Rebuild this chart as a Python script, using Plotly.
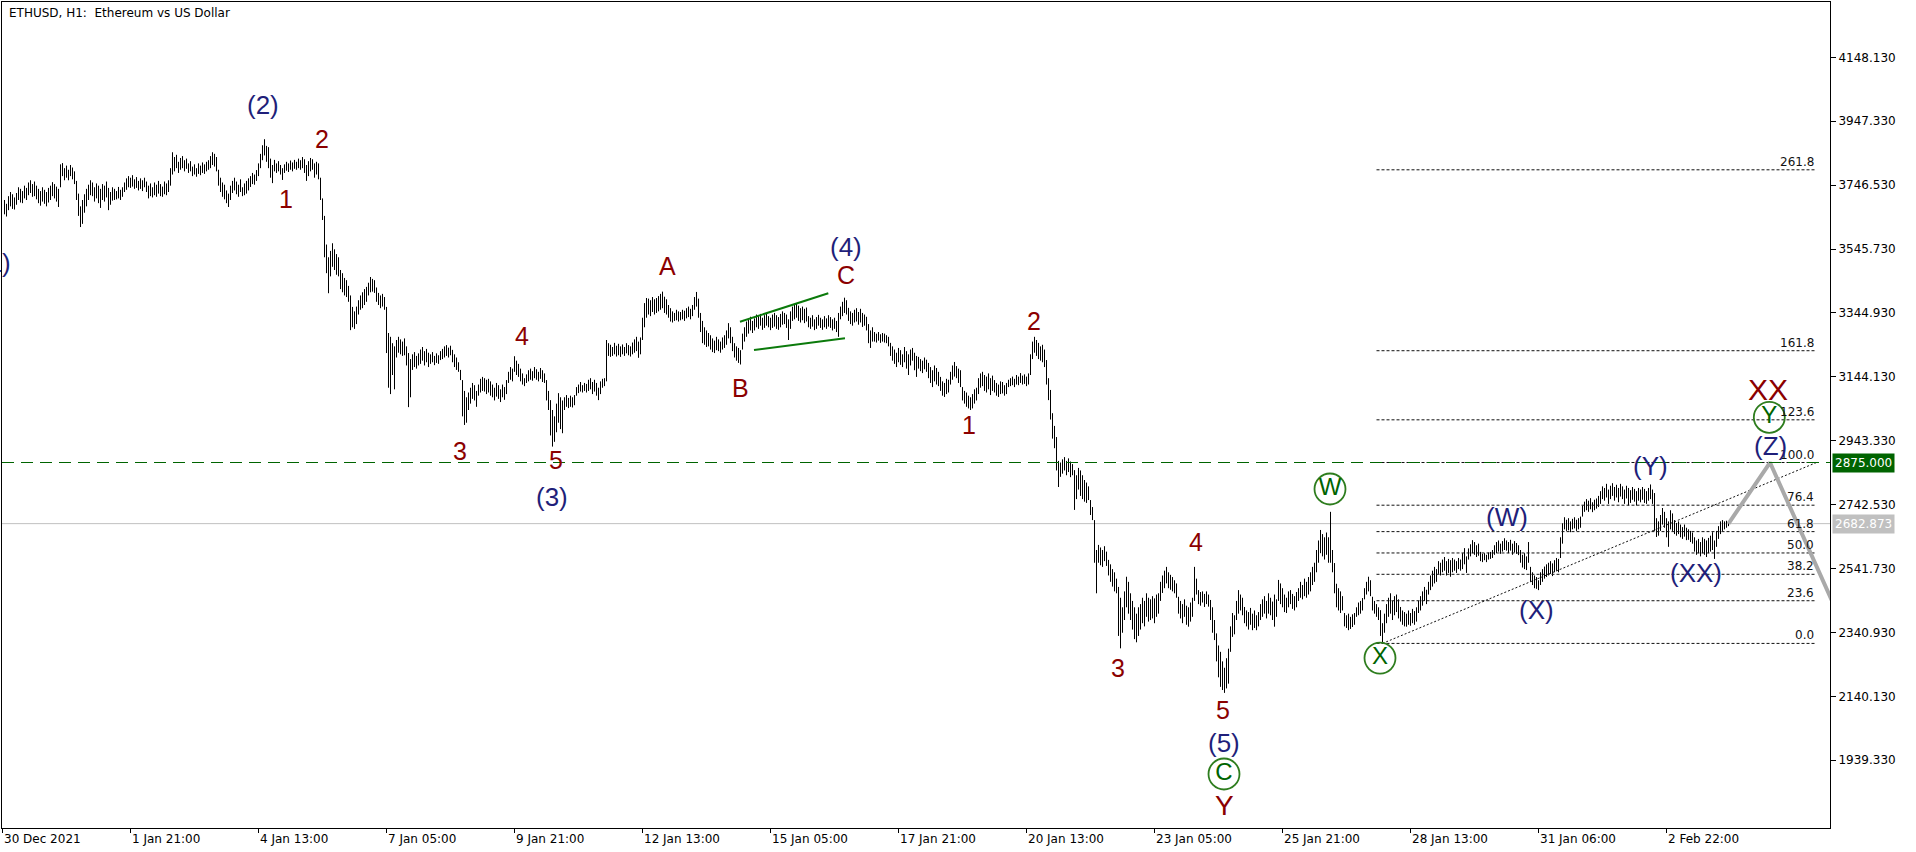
import plotly.graph_objects as go

# ---------------- data (hourly bars) ----------------
bar_high = [
    3700,3688,3712,3725,3718,3708,3722,3740,3735,3728,
    3745,3738,3755,3762,3750,3758,3745,3735,3728,3740,
    3732,3725,3738,3745,3756,3750,3742,3735,3812,3816,
    3800,3808,3795,3810,3802,3790,3760,3720,3680,3700,
    3718,3735,3748,3762,3755,3740,3752,3745,3735,3750,
    3745,3758,3738,3725,3740,3735,3728,3741,3732,3740,
    3755,3768,3775,3770,3778,3765,3772,3760,3768,3762,
    3770,3758,3745,3752,3740,3755,3748,3760,3750,3742,
    3758,3752,3762,3800,3850,3835,3842,3820,3832,3838,
    3825,3830,3815,3822,3805,3812,3800,3815,3808,3818,
    3812,3820,3825,3838,3850,3845,3835,3795,3770,3755,
    3748,3730,3720,3745,3760,3770,3758,3748,3765,3740,
    3752,3760,3768,3775,3785,3780,3794,3815,3845,3872,
    3891,3870,3866,3830,3810,3826,3815,3822,3810,3800,
    3812,3820,3815,3824,3818,3826,3820,3830,3825,3835,
    3828,3810,3822,3832,3828,3815,3820,3815,3770,3705,
    3650,3560,3520,3540,3564,3545,3530,3520,3480,3470,
    3455,3448,3430,3400,3364,3350,3365,3385,3400,3410,
    3420,3427,3440,3458,3452,3448,3425,3408,3400,3405,
    3395,3364,3282,3270,3250,3240,3260,3270,3262,3255,
    3265,3240,3219,3200,3215,3222,3210,3218,3230,3238,
    3225,3232,3220,3215,3222,3210,3218,3212,3225,3232,
    3240,3244,3236,3242,3229,3215,3205,3190,3166,3134,
    3100,3080,3095,3110,3125,3118,3100,3120,3138,3144,
    3140,3135,3138,3130,3120,3110,3125,3118,3105,3120,
    3112,3134,3160,3175,3170,3209,3195,3185,3170,3155,
    3140,3152,3165,3170,3162,3175,3168,3160,3172,3165,
    3155,3134,3100,3071,3040,3020,3060,3093,3080,3070,
    3080,3087,3078,3085,3080,3087,3112,3120,3128,3118,
    3125,3122,3135,3140,3128,3135,3125,3110,3130,3138,
    3140,3260,3250,3245,3238,3251,3242,3248,3240,3246,
    3238,3250,3244,3240,3252,3262,3270,3255,3268,3330,
    3376,3392,3390,3385,3395,3388,3392,3398,3405,3412,
    3396,3388,3370,3360,3350,3345,3355,3350,3348,3355,
    3352,3360,3365,3358,3370,3395,3411,3390,3345,3320,
    3300,3290,3282,3275,3265,3258,3270,3262,3255,3268,
    3275,3290,3313,3300,3270,3250,3240,3235,3228,3280,
    3300,3318,3325,3333,3320,3328,3340,3335,3342,3330,
    3338,3345,3335,3330,3340,3345,3338,3332,3342,3350,
    3345,3340,3325,3350,3365,3370,3376,3368,3360,3365,
    3358,3362,3335,3330,3338,3325,3332,3339,3330,3325,
    3335,3328,3338,3332,3325,3330,3320,3345,3365,3380,
    3393,3385,3361,3350,3345,3355,3360,3348,3358,3345,
    3340,3333,3310,3290,3300,3285,3280,3285,3278,3282,
    3280,3275,3270,3251,3240,3230,3220,3235,3228,3215,
    3238,3225,3215,3230,3235,3220,3210,3207,3200,3195,
    3205,3198,3188,3175,3165,3180,3172,3160,3144,3130,
    3125,3138,3135,3160,3180,3191,3178,3170,3165,3112,
    3100,3095,3085,3080,3090,3105,3110,3140,3155,3160,
    3150,3145,3155,3140,3148,3134,3125,3120,3130,3128,
    3118,3125,3135,3140,3145,3138,3150,3145,3156,3148,
    3152,3145,3155,3215,3255,3270,3260,3251,3240,3245,
    3230,3197,3140,3103,3030,2990,2955,2880,2875,2885,
    2892,2880,2888,2878,2870,2851,2835,2858,2850,2835,
    2820,2812,2800,2757,2735,2694,2600,2616,2608,2600,
    2612,2595,2569,2555,2540,2530,2510,2484,2450,2420,
    2470,2516,2500,2464,2440,2420,2400,2420,2430,2450,
    2440,2464,2450,2445,2455,2448,2460,2464,2500,2520,
    2535,2547,2530,2522,2515,2505,2495,2453,2440,2430,
    2445,2425,2420,2435,2450,2547,2510,2474,2468,2470,
    2462,2470,2460,2443,2420,2380,2338,2300,2280,2250,
    2230,2260,2290,2360,2402,2395,2440,2474,2460,2450,
    2421,2410,2405,2418,2400,2410,2395,2405,2430,2445,
    2455,2440,2464,2450,2438,2460,2445,2506,2495,2480,
    2460,2450,2470,2474,2462,2455,2468,2480,2500,2490,
    2510,2500,2515,2530,2547,2560,2600,2630,2663,2650,
    2640,2655,2640,2720,2600,2559,2494,2480,2470,2455,
    2402,2395,2400,2390,2398,2402,2420,2435,2440,2449,
    2480,2500,2516,2505,2453,2440,2430,2420,2411,2370,
    2400,2430,2450,2464,2440,2455,2460,2445,2421,2410,
    2405,2400,2410,2402,2415,2408,2420,2440,2455,2470,
    2484,2475,2500,2520,2535,2547,2540,2565,2560,2570,
    2578,2565,2572,2568,2575,2570,2565,2575,2570,2590,
    2606,2580,2605,2618,2631,2625,2615,2620,2594,2588,
    2590,2585,2592,2594,2600,2615,2625,2630,2620,2628,
    2637,2630,2625,2632,2620,2628,2622,2615,2600,2585,
    2590,2580,2625,2547,2530,2520,2515,2505,2530,2540,
    2548,2555,2560,2565,2558,2568,2575,2572,2640,2684,
    2703,2695,2700,2690,2698,2703,2695,2700,2705,2740,
    2752,2760,2755,2763,2750,2758,2762,2770,2785,2800,
    2795,2808,2790,2802,2810,2798,2805,2795,2808,2800,
    2790,2802,2795,2788,2798,2792,2785,2795,2790,2798,
    2792,2785,2795,2806,2790,2779,2700,2690,2710,2732,
    2720,2700,2690,2725,2715,2694,2685,2690,2680,2672,
    2680,2670,2665,2660,2655,2640,2630,2635,2625,2640,
    2635,2630,2638,2645,2656,2630,2660,2675,2690,2694,
    2690,2692,2690,
]
bar_low = [
    3655,3648,3668,3680,3672,3670,3685,3700,3692,3690,
    3705,3700,3715,3722,3710,3712,3702,3690,3682,3695,
    3688,3680,3692,3700,3712,3705,3695,3678,3740,3775,
    3762,3770,3762,3775,3765,3750,3700,3650,3615,3625,
    3660,3680,3700,3715,3712,3695,3705,3690,3675,3700,
    3695,3708,3668,3685,3698,3700,3702,3705,3700,3710,
    3725,3732,3740,3738,3742,3735,3738,3730,3735,3728,
    3740,3725,3705,3712,3708,3715,3710,3720,3712,3710,
    3718,3715,3725,3745,3780,3790,3800,3785,3795,3800,
    3790,3798,3785,3790,3775,3780,3773,3782,3778,3785,
    3782,3790,3795,3800,3810,3805,3790,3745,3725,3710,
    3702,3690,3678,3700,3722,3730,3718,3710,3725,3712,
    3715,3720,3730,3741,3750,3748,3760,3775,3800,3825,
    3840,3820,3800,3770,3753,3790,3785,3790,3780,3763,
    3785,3792,3788,3795,3790,3798,3795,3800,3795,3800,
    3785,3760,3775,3790,3795,3770,3780,3765,3700,3637,
    3520,3470,3407,3460,3490,3480,3465,3460,3420,3410,
    3400,3395,3380,3291,3300,3295,3310,3340,3355,3360,
    3370,3380,3400,3410,3412,3408,3380,3370,3360,3365,
    3355,3219,3110,3090,3150,3105,3205,3220,3215,3210,
    3212,3180,3049,3080,3166,3175,3170,3180,3185,3195,
    3180,3190,3175,3185,3190,3181,3188,3185,3197,3200,
    3205,3210,3205,3212,3190,3175,3166,3160,3134,3020,
    2993,3000,3040,3060,3075,3070,3050,3085,3095,3100,
    3098,3090,3095,3085,3080,3070,3082,3075,3065,3080,
    3072,3090,3125,3135,3130,3160,3150,3144,3130,3120,
    3115,3125,3130,3135,3132,3140,3135,3130,3138,3128,
    3125,3070,3040,2960,2925,2940,2970,3000,2980,2967,
    3040,3050,3046,3050,3048,3055,3085,3093,3098,3095,
    3100,3095,3100,3105,3090,3098,3085,3071,3090,3110,
    3115,3130,3210,3207,3210,3215,3208,3212,3207,3215,
    3210,3218,3212,3208,3215,3220,3225,3204,3215,3260,
    3300,3330,3340,3335,3348,3340,3345,3350,3355,3360,
    3345,3340,3330,3318,3315,3320,3322,3318,3322,3325,
    3320,3328,3332,3325,3335,3355,3365,3330,3285,3250,
    3245,3238,3240,3230,3222,3219,3228,3225,3220,3230,
    3235,3245,3265,3250,3225,3205,3195,3188,3183,3230,
    3255,3270,3280,3290,3282,3290,3300,3295,3305,3292,
    3298,3305,3300,3291,3298,3302,3295,3292,3300,3308,
    3310,3298,3260,3295,3320,3325,3330,3320,3315,3322,
    3313,3318,3300,3295,3302,3291,3295,3305,3298,3292,
    3300,3295,3302,3298,3290,3295,3285,3270,3325,3335,
    3345,3340,3320,3310,3305,3315,3318,3308,3315,3301,
    3305,3290,3250,3235,3255,3255,3252,3258,3251,3255,
    3252,3250,3240,3210,3195,3185,3175,3190,3182,3175,
    3190,3170,3150,3180,3195,3165,3144,3170,3162,3156,
    3168,3160,3140,3125,3112,3130,3120,3115,3100,3085,
    3081,3090,3095,3120,3135,3145,3140,3125,3112,3070,
    3060,3050,3045,3040,3045,3060,3070,3090,3110,3115,
    3100,3095,3105,3087,3100,3095,3085,3081,3090,3092,
    3085,3090,3112,3115,3118,3112,3120,3118,3125,3120,
    3122,3115,3120,3150,3200,3220,3210,3200,3195,3190,
    3175,3120,3071,3010,2950,2920,2850,2798,2830,2840,
    2850,2835,2845,2829,2835,2726,2760,2790,2770,2760,
    2752,2748,2757,2710,2694,2560,2464,2560,2552,2547,
    2565,2550,2520,2500,2485,2470,2464,2330,2291,2340,
    2380,2420,2400,2380,2350,2320,2310,2330,2350,2370,
    2360,2390,2375,2380,2385,2370,2390,2400,2440,2465,
    2480,2495,2480,2475,2470,2464,2450,2400,2385,2370,
    2390,2365,2359,2375,2390,2440,2460,2430,2425,2435,
    2421,2430,2422,2380,2340,2317,2250,2200,2170,2160,
    2151,2165,2180,2280,2327,2335,2380,2400,2410,2395,
    2370,2360,2350,2365,2348,2355,2348,2360,2380,2390,
    2400,2385,2400,2395,2380,2359,2390,2440,2430,2420,
    2405,2402,2420,2430,2415,2410,2420,2440,2450,2445,
    2455,2450,2460,2470,2490,2500,2530,2560,2590,2580,
    2570,2585,2560,2560,2530,2464,2420,2410,2402,2410,
    2360,2355,2348,2352,2358,2365,2390,2395,2400,2410,
    2445,2460,2470,2455,2410,2400,2390,2380,2330,2307,
    2340,2370,2390,2400,2380,2395,2405,2385,2375,2365,
    2360,2359,2365,2362,2370,2365,2375,2402,2410,2425,
    2440,2430,2460,2474,2485,2495,2500,2525,2520,2530,
    2535,2520,2528,2516,2530,2535,2528,2540,2535,2540,
    2555,2528,2570,2580,2590,2585,2578,2582,2565,2562,
    2568,2562,2570,2572,2575,2585,2590,2595,2588,2595,
    2600,2598,2590,2598,2585,2592,2588,2584,2560,2545,
    2540,2537,2560,2500,2490,2480,2478,2474,2490,2500,
    2510,2515,2520,2525,2518,2530,2535,2530,2575,2620,
    2665,2660,2662,2656,2665,2668,2660,2665,2670,2705,
    2720,2725,2720,2728,2719,2725,2730,2735,2745,2760,
    2755,2765,2745,2760,2770,2755,2765,2750,2768,2760,
    2745,2762,2740,2748,2758,2752,2740,2755,2750,2758,
    2748,2745,2755,2760,2745,2660,2641,2645,2660,2680,
    2670,2640,2610,2665,2660,2650,2645,2650,2640,2635,
    2642,2631,2632,2625,2620,2595,2585,2590,2580,2590,
    2585,2578,2590,2595,2600,2572,2610,2635,2650,2660,
    2665,2670,2675,
]
last_price = 2682.873
target_price = 2875.000

price_ticks = [4148.13, 3947.33, 3746.53, 3545.73, 3344.93, 3144.13,
               2943.33, 2742.53, 2541.73, 2340.93, 2140.13, 1939.33]
time_tick_bars = [-1, 63, 127, 191, 255, 319, 383, 447, 511, 575, 639, 703, 767, 831]
time_tick_labels = ["30 Dec 2021", "1 Jan 21:00", "4 Jan 13:00", "7 Jan 05:00",
                    "9 Jan 21:00", "12 Jan 13:00", "15 Jan 05:00", "17 Jan 21:00",
                    "20 Jan 13:00", "23 Jan 05:00", "25 Jan 21:00", "28 Jan 13:00",
                    "31 Jan 06:00", "2 Feb 22:00"]

fib_levels = [0.0, 23.6, 38.2, 50.0, 61.8, 76.4, 100.0, 123.6, 161.8, 261.8]
fib_price_0 = 2306.5
fib_price_100 = 2875.0
fib_bar_start = 686
fib_bar_anchor = 689
fib_bar_end = 906

forecast_bars = [862, 882.75, 915]
forecast_prices = [2682.873, 2875.0, 2423.0]

triangle_upper_bars = [367.75, 411.9]
triangle_upper_prices = [3317.5, 3406.8]
triangle_lower_bars = [374.75, 420.25]
triangle_lower_prices = [3228.6, 3265.3]

red_labels = ["1", "2", "3", "4", "5", "A", "B", "C", "1", "2", "3", "4", "5"]
red_bars = [140.75, 158.75, 227.75, 258.75, 275.75, 331.25, 367.75, 420.75,
            482.25, 514.75, 556.6, 595.6, 609.25]
red_prices = [3703.1, 3891.7, 2911.1, 3272.6, 2882.8, 3492.6, 3109.2, 3464.3,
              2992.9, 3319.7, 2229.2, 2626.1, 2097.2]

big_red_labels = ["Y", "XX"]
big_red_bars = [609.75, 881.6]
big_red_prices = [1798.6, 3102.9]
big_red_sizes = [28, 30]

navy_labels = ["(2)", "(3)", "(4)", "(5)", "(W)", "(X)", "(Y)", "(XX)", "(Z)"]
navy_bars = [129.25, 273.75, 420.75, 609.75, 751.1, 766.1, 822.75, 845.75, 882.75]
navy_prices = [3998.5, 2766.6, 3552.3, 1994.4, 2702.8, 2411.5, 2864.0, 2526.8, 2926.9]

circle_labels = ["C", "W", "X", "Y"]
circle_bars = [609.75, 662.75, 687.75, 882.4]
circle_prices = [1896.1, 2791.7, 2260.4, 3017.1]

# ---------------- figure ----------------
RED = "#8B0000"
NAVY = "#1F1F7A"
GREEN = "#006400"
LABEL_FONT = "Liberation Sans, Arial, sans-serif"
UI_FONT = "DejaVu Sans, Verdana, sans-serif"

fig = go.Figure()

# hourly bars as vertical high-low lines
bx, by = [], []
for k, (h, l) in enumerate(zip(bar_high, bar_low)):
    bx += [k, k, None]
    by += [l, h, None]
fig.add_trace(go.Scatter(x=bx, y=by, mode="lines",
                         line=dict(color="black", width=1),
                         hoverinfo="skip", showlegend=False))

# fib levels
fib_range = fib_price_100 - fib_price_0
for lv in fib_levels:
    p = fib_price_0 + lv / 100.0 * fib_range
    fig.add_trace(go.Scatter(x=[fib_bar_start, fib_bar_end], y=[p, p], mode="lines",
                             line=dict(color="#111111", width=1, dash="3px,2px"),
                             hoverinfo="skip", showlegend=False))
    fig.add_annotation(x=fib_bar_end - 0.5, y=p, xref="x", yref="y",
                       text=f"{lv:.1f}", showarrow=False, xanchor="right",
                       yanchor="bottom", yshift=-1,
                       font=dict(family=UI_FONT, size=12, color="#111111"))
# fib diagonal
fig.add_trace(go.Scatter(x=[fib_bar_anchor, fib_bar_end],
                         y=[fib_price_0, fib_price_100], mode="lines",
                         line=dict(color="#111111", width=1, dash="2px,2px"),
                         hoverinfo="skip", showlegend=False))

# triangle lines
fig.add_trace(go.Scatter(x=triangle_upper_bars, y=triangle_upper_prices, mode="lines",
                         line=dict(color="#0B7A0B", width=2),
                         hoverinfo="skip", showlegend=False))
fig.add_trace(go.Scatter(x=triangle_lower_bars, y=triangle_lower_prices, mode="lines",
                         line=dict(color="#0B7A0B", width=2),
                         hoverinfo="skip", showlegend=False))

# forecast path
fig.add_trace(go.Scatter(x=forecast_bars, y=forecast_prices, mode="lines",
                         line=dict(color="#A9A9A9", width=4),
                         hoverinfo="skip", showlegend=False))

# horizontal lines
fig.add_shape(type="line", xref="paper", x0=0, x1=1, yref="y",
              y0=target_price, y1=target_price,
              line=dict(color=GREEN, width=1, dash="12px,7px"), layer="above")
fig.add_shape(type="line", xref="paper", x0=0, x1=1, yref="y",
              y0=last_price, y1=last_price,
              line=dict(color="#C0C0C0", width=1), layer="below")

# circled wave labels
fig.add_trace(go.Scatter(x=circle_bars, y=circle_prices, mode="markers+text",
                         text=circle_labels, textposition="middle center",
                         textfont=dict(family=LABEL_FONT, size=24, color=GREEN),
                         marker=dict(symbol="circle-open", size=31,
                                     color="#2E7D1E", line=dict(width=1.8, color="#2E7D1E")),
                         cliponaxis=False, hoverinfo="skip", showlegend=False))

for t, k, p in zip(red_labels, red_bars, red_prices):
    fig.add_annotation(x=k, y=p, text=t, showarrow=False, xanchor="center",
                       yanchor="middle", font=dict(family=LABEL_FONT, size=25, color=RED))
for t, k, p, s in zip(big_red_labels, big_red_bars, big_red_prices, big_red_sizes):
    fig.add_annotation(x=k, y=p, text=t, showarrow=False, xanchor="center",
                       yanchor="middle", font=dict(family=LABEL_FONT, size=s, color=RED))
for t, k, p in zip(navy_labels, navy_bars, navy_prices):
    fig.add_annotation(x=k, y=p, text=t, showarrow=False, xanchor="center",
                       yanchor="middle", font=dict(family=LABEL_FONT, size=26, color=NAVY))
# (1) label cut by the left edge
fig.add_annotation(x=-0.0038, xref="paper", y=3502, yref="y", text="(1)",
                   showarrow=False, xanchor="center", yanchor="middle",
                   font=dict(family=LABEL_FONT, size=26, color=NAVY))

# title
fig.add_annotation(x=0.0027, xref="paper", y=0.9867, yref="paper",
                   text="ETHUSD, H1:\u00a0\u00a0Ethereum vs US Dollar", showarrow=False,
                   xanchor="left", yanchor="middle",
                   font=dict(family=UI_FONT, size=12, color="black"))

# time labels (left aligned on their ticks)
for k, lab in zip(time_tick_bars, time_tick_labels):
    fig.add_annotation(x=k, xref="x", y=0, yref="paper", text=lab, showarrow=False,
                       xanchor="left", yanchor="top", yshift=-2, xshift=-1,
                       font=dict(family=UI_FONT, size=12, color="black"))

# price boxes on the right axis
fig.add_annotation(x=1, xref="paper", y=target_price, yref="y", text=f"{target_price:.3f}",
                   showarrow=False, xanchor="left", yanchor="middle", xshift=2,
                   bgcolor=GREEN, borderpad=2,
                   font=dict(family=UI_FONT, size=12, color="white"))
fig.add_annotation(x=1, xref="paper", y=last_price, yref="y", text=f"{last_price:.3f}",
                   showarrow=False, xanchor="left", yanchor="middle", xshift=2,
                   bgcolor="#C0C0C0", borderpad=2,
                   font=dict(family=UI_FONT, size=12, color="white"))

fig.update_layout(
    width=1916, height=852,
    margin=dict(l=2, r=86, t=2, b=24),
    paper_bgcolor="white", plot_bgcolor="white",
    showlegend=False,
    xaxis=dict(range=[-1.25, 912.75], tickvals=time_tick_bars, showticklabels=False,
               ticks="outside", ticklen=4, tickcolor="black",
               showgrid=False, zeroline=False, showline=True, linecolor="black",
               linewidth=1, mirror=True, fixedrange=True),
    yaxis=dict(range=[1726.4, 4322.2], side="right", tickvals=price_ticks,
               ticktext=[f"{v:.3f}" for v in price_ticks],
               ticks="outside", ticklen=5, tickcolor="black",
               tickfont=dict(family=UI_FONT, size=12, color="black"),
               showgrid=False, zeroline=False, showline=True, linecolor="black",
               linewidth=1, mirror=True, fixedrange=True, automargin=False),
)

fig.write_html("out.html", config={"displayModeBar": False},
               post_script="document.body.style.margin='0px';document.body.style.padding='0px';document.body.style.overflow='hidden';")
